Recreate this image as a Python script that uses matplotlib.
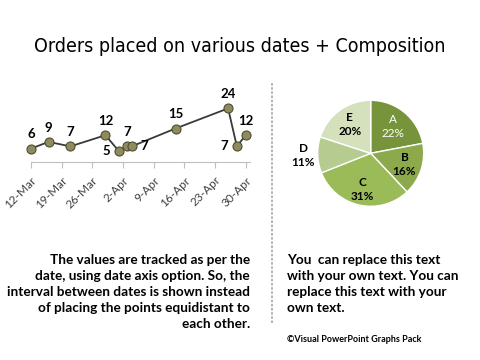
import matplotlib
matplotlib.use("Agg")
import matplotlib.pyplot as plt
import matplotlib.dates as mdates
import numpy as np
import pandas as pd

# ---- data ----
order_dates = ["2013-03-12", "2013-03-16", "2013-03-21", "2013-03-29", "2013-04-01",
               "2013-04-03", "2013-04-04", "2013-04-14", "2013-04-26", "2013-04-28",
               "2013-04-30"]
order_values = [6, 9, 7, 12, 5, 7, 7, 15, 24, 7, 12]
label_pos = ["top", "top", "top", "top", "left", "top", "right", "top", "top", "left", "top"]
tick_dates = ["2013-03-12", "2013-03-19", "2013-03-26", "2013-04-02", "2013-04-09",
              "2013-04-16", "2013-04-23", "2013-04-30"]
tick_labels = ["12-Mar", "19-Mar", "26-Mar", "2-Apr", "9-Apr", "16-Apr", "23-Apr", "30-Apr"]

pie_labels = ["A", "B", "C", "D", "E"]
pie_values = [22, 16, 31, 11, 20]
pie_colors = ["#77933C", "#8CAA4C", "#9BBB59", "#B6CB90", "#D4E1BC"]
pie_label_dist = [0.65, 0.67, 0.70, 1.27, 0.67]
pie_text_colors = ["white", "black", "black", "black", "black"]

title = "Orders placed on various dates + Composition"
left_text = ("The values are tracked as per the\ndate, using date axis option. So, the\n"
             "interval between dates is shown instead\nof placing the points equidistant to\n"
             "each other.")
right_text = ("You  can replace this text\nwith your own text. You can\n"
              "replace this text with your\nown text.")
credit = "\u00a9Visual PowerPoint Graphs Pack"

BODY = ["Lato", "DejaVu Sans"]
TITLE_FONT = ["DejaVu Sans"]

fig = plt.figure(figsize=(4.8, 3.6), dpi=100)
fig.patch.set_facecolor("white")

# title
fig.text(0.5, 1 - 47 / 360, title, ha="center", va="center", fontsize=14,
         family=TITLE_FONT, fontstretch="condensed", color="black")

# ---- line chart ----
x = pd.to_datetime(order_dates)
ax = fig.add_axes([31 / 480, 1 - 162 / 360, 219 / 480, 67 / 360])
ax.plot(x, order_values, color="#3A3A3A", lw=1.3, marker="o", markersize=6.5,
        markerfacecolor="#8E8C5E", markeredgecolor="#4E4D33", markeredgewidth=0.8,
        zorder=3, clip_on=False)
ax.set_xlim(pd.Timestamp("2013-03-12"), pd.Timestamp("2013-05-01"))
ax.set_ylim(0, 30)
ax.set_xticks(pd.to_datetime(tick_dates))
ax.set_xticklabels(tick_labels, rotation=45, ha="right", rotation_mode="anchor",
                   fontsize=8.5, family=BODY, color="#404040")
ax.set_yticks([])
for s in ["top", "right", "left"]:
    ax.spines[s].set_visible(False)
ax.spines["bottom"].set_color("#BFBFBF")
ax.tick_params(axis="x", length=4, color="#BFBFBF", direction="out", pad=5)
offsets = {"top": (0, 6, "center", "bottom"), "left": (-6, 0, "right", "center"),
           "right": (6, 0, "left", "center")}
for xi, yi, p in zip(x, order_values, label_pos):
    dx, dy, ha, va = offsets[p]
    ax.annotate(str(yi), (xi, yi), xytext=(dx, dy), textcoords="offset points",
                ha=ha, va=va, fontsize=9.5, fontweight="bold", family=BODY)

# ---- pie ----
pax = fig.add_axes([(370.7 - 53) / 480, (360 - 153.3 - 53) / 360, 106 / 480, 106 / 360])
wedges, _ = pax.pie(pie_values, colors=pie_colors, startangle=90, counterclock=False,
                    wedgeprops=dict(edgecolor="white", linewidth=1))
pax.set_xlim(-1, 1)
pax.set_ylim(-1, 1)
pax.set_aspect("equal")
total = sum(pie_values)
for w, lab, v, d, tc in zip(wedges, pie_labels, pie_values, pie_label_dist, pie_text_colors):
    ang = np.deg2rad((w.theta1 + w.theta2) / 2)
    pax.text(d * np.cos(ang), d * np.sin(ang), f"{lab}\n{round(100 * v / total)}%",
             ha="center", va="center", fontsize=8.5, color=tc,
             fontweight="normal" if tc == "white" else "bold", family=BODY,
             linespacing=1.3)

# divider
fig.add_artist(plt.Line2D([271.7 / 480, 271.7 / 480], [1 - 83 / 360, 1 - 323 / 360],
                          color="#A6A6A6", lw=1.2, ls=(0, (1.5, 1))))

# body texts
fig.text(250 / 480, 1 - 254 / 360, left_text, ha="right", va="top", fontsize=9.8,
         fontweight="bold", family=BODY, linespacing=1.4)
fig.text(286.7 / 480, 1 - 254 / 360, right_text, ha="left", va="top", fontsize=9.8,
         fontweight="bold", family=BODY, linespacing=1.4)
fig.text(286.7 / 480, 1 - 340 / 360, credit, ha="left", va="center", fontsize=6.5,
         fontweight="bold", family=BODY)

fig.savefig("out.png", dpi=100, facecolor="white")
